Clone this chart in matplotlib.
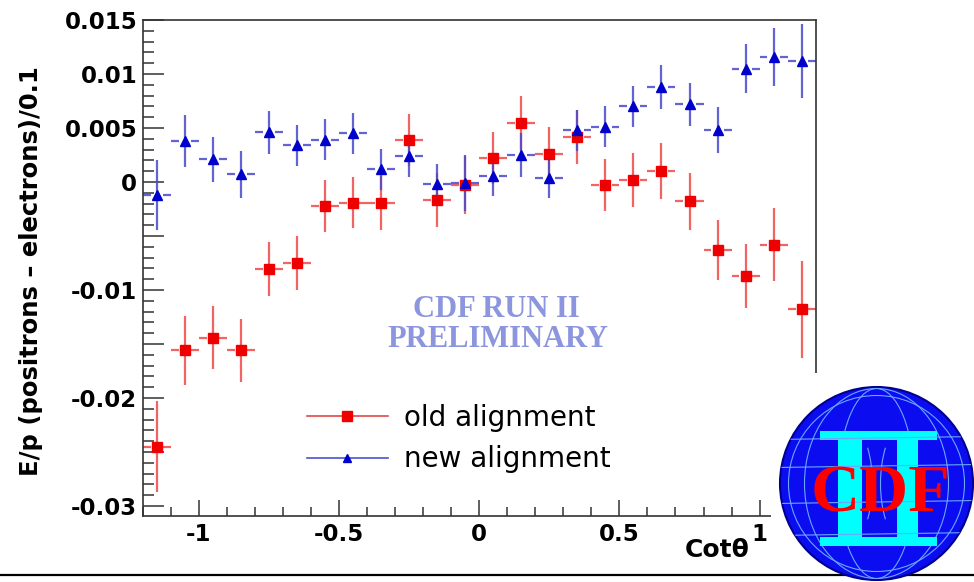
import matplotlib
matplotlib.use("Agg")
import matplotlib.pyplot as plt
import numpy as np
from matplotlib.lines import Line2D
from matplotlib.patches import Circle, Rectangle, Ellipse, Arc
from matplotlib.ticker import FixedLocator, MultipleLocator, FuncFormatter

# cot(theta) bin centres, bins are 0.1 wide
cot_theta = [-1.15, -1.05, -0.95, -0.85, -0.75, -0.65, -0.55, -0.45, -0.35, -0.25, -0.15, -0.05,
             0.05, 0.15, 0.25, 0.35, 0.45, 0.55, 0.65, 0.75, 0.85, 0.95, 1.05, 1.15]
bin_half_width = 0.05

# E/p (positrons - electrons) per bin
old_ep = [-0.0245, -0.0156, -0.0144, -0.0156, -0.0081, -0.0075, -0.0022, -0.0019, -0.0019, 0.0039,
          -0.0017, -0.0003, 0.0022, 0.0055, 0.0026, 0.0042, -0.0003, 0.0002, 0.0010, -0.0018,
          -0.0063, -0.0087, -0.0058, -0.0118]
old_err = [0.0042, 0.0032, 0.0029, 0.0029, 0.0025, 0.0025, 0.0024, 0.0024, 0.0025, 0.0024,
           0.0025, 0.0027, 0.0024, 0.0025, 0.0025, 0.0025, 0.0024, 0.0025, 0.0026, 0.0026,
           0.0028, 0.0030, 0.0034, 0.0045]
new_ep = [-0.0012, 0.0038, 0.0021, 0.0007, 0.0046, 0.0034, 0.0039, 0.0045, 0.0012, 0.0024,
          -0.0002, -0.0001, 0.0006, 0.0025, 0.0004, 0.0048, 0.0051, 0.0070, 0.0088, 0.0072,
          0.0048, 0.0105, 0.0116, 0.0112]
new_err = [0.0032, 0.0024, 0.0021, 0.0022, 0.0020, 0.0019, 0.0019, 0.0019, 0.0019, 0.0019,
           0.0019, 0.0026, 0.0019, 0.0020, 0.0019, 0.0019, 0.0019, 0.0019, 0.0020, 0.0020,
           0.0021, 0.0023, 0.0027, 0.0034]

x_tick_values = [-1, -0.5, 0, 0.5, 1]
x_tick_text = ["-1", "-0.5", "0", "0.5", "1"]
y_label_values = [0.015, 0.01, 0.005, 0.0, -0.01, -0.02, -0.03]
y_label_text = ["0.015", "0.01", "0.005", "0", "-0.01", "-0.02", "-0.03"]

W, H = 974, 582


def fx(p):
    return p / W


def fy(p):
    return 1 - p / H


fig = plt.figure(figsize=(W / 100, H / 100), dpi=100)
ax = fig.add_axes([fx(142.7), fy(515.7), (815.7 - 142.7) / W, (515.7 - 20) / H])

x = np.array(cot_theta)
gap = 0.022


def draw_series(y, err, marker, ms, mcol, lcol):
    y = np.array(y)
    err = np.array(err)
    ax.vlines(x, y - err, y + err, color=lcol, lw=1.6, alpha=0.85, zorder=2)
    ax.hlines(y, x - bin_half_width, x - gap, color=lcol, lw=1.6, alpha=0.85, zorder=2)
    ax.hlines(y, x + gap, x + bin_half_width, color=lcol, lw=1.6, alpha=0.85, zorder=2)
    ax.plot(x, y, linestyle="none", marker=marker, ms=ms, mfc=mcol, mec=mcol, zorder=3)


draw_series(old_ep, old_err, "s", 7, "#ee0000", "#f04848")
draw_series(new_ep, new_err, "^", 6.5, "#0000cc", "#4848cc")

ax.set_xlim(-1.2, 1.2)
ax.set_ylim(-0.0309, 0.015)

ax.xaxis.set_major_locator(FixedLocator(x_tick_values))
ax.set_xticklabels(x_tick_text)
ax.xaxis.set_minor_locator(MultipleLocator(0.1))

y_labels = {round(v, 4): t for v, t in zip(y_label_values, y_label_text)}
ax.yaxis.set_major_locator(MultipleLocator(0.005))
ax.yaxis.set_major_formatter(FuncFormatter(lambda v, pos: y_labels.get(round(v, 4), "")))
ax.yaxis.set_minor_locator(MultipleLocator(0.001))

ax.tick_params(axis="both", which="both", direction="in", color="#333333", width=1.1,
               labelsize=16.5)
ax.tick_params(axis="y", which="major", length=15, pad=4)
ax.tick_params(axis="y", which="minor", length=8)
ax.tick_params(axis="x", which="major", length=11.5, pad=5)
ax.tick_params(axis="x", which="minor", length=6.5)
for lab in ax.get_xticklabels() + ax.get_yticklabels():
    lab.set_fontweight("bold")
for sp in ax.spines.values():
    sp.set_color("#333333")
    sp.set_linewidth(1.2)

# axis titles
fig.text(fx(31), fy(271), "E/p (positrons \u2013 electrons)/0.1", rotation=90, ha="center",
         va="center", fontsize=17.5, fontweight="bold")
fig.text(fx(750), fy(557), "Cot\u03b8", ha="right", va="baseline", fontsize=18,
         fontweight="bold")

# preliminary stamp
fig.text(fx(496), fy(316.7), "CDF RUN II", ha="center", va="baseline", fontsize=22,
         family="Liberation Serif", fontweight="bold", color="#8c96de")
fig.text(fx(498), fy(347.3), "PRELIMINARY", ha="center", va="baseline", fontsize=22,
         family="Liberation Serif", fontweight="bold", color="#8c96de")

handles = [
    Line2D([], [], color="#e04848", lw=1.2, marker="s", ms=7, mfc="#ee0000", mec="#ee0000"),
    Line2D([], [], color="#5050d0", lw=1.2, marker="^", ms=6, mfc="#0000cc", mec="#0000cc"),
]
ax.legend(handles, ["old alignment", "new alignment"], loc="center left",
          bbox_to_anchor=(fx(307), fy(438.5)), bbox_transform=fig.transFigure,
          frameon=False, fontsize=20, handlelength=2.9, handletextpad=0.6,
          labelspacing=0.5, borderpad=0, borderaxespad=0)

# white corner under the logo, and the rule along the bottom
fig.add_artist(Rectangle((fx(771), 0), 1 - fx(771), fy(373), transform=fig.transFigure,
                         fc="white", ec="none", zorder=2))
fig.add_artist(Line2D([0, 1], [fy(575), fy(575)], transform=fig.transFigure,
                      color="black", lw=1.6, zorder=3))

# CDF II logo
lax = fig.add_axes([fx(776.5), fy(583.5), 200 / W, 200 / H], zorder=5)
lax.set_xlim(-100, 100)
lax.set_ylim(-100, 100)
lax.axis("off")
disc = Circle((0, 0), 96.5, fc="#0c0cf0", ec="#000090", lw=1.5)
lax.add_patch(disc)
grid_col = "#6aa8ff"
ring = Circle((0, 0), 88, fill=False, ec=grid_col, lw=0.8)
lax.add_patch(ring)
for a in (38, 72):
    e = Ellipse((0, 0), 2 * a, 190, fill=False, ec=grid_col, lw=0.8)
    lax.add_patch(e)
    e.set_clip_path(disc)
for yy in (-52, -20, 16, 44):
    ln, = lax.plot([-100, 100], [yy, yy + 3], color=grid_col, lw=0.8)
    ln.set_clip_path(disc)
for cx, t1, t2 in ((-34, -55, 55), (34, 125, 235)):
    arc = Arc((cx, 0), 60, 130, theta1=t1, theta2=t2, ec=grid_col, lw=0.8)
    lax.add_patch(arc)
    arc.set_clip_path(disc)

cyan = "#00ffff"
lax.add_patch(Rectangle((-56.5, 43.5), 116.7, 9, fc=cyan, ec="none"))
lax.add_patch(Rectangle((-56.5, -62.5), 116.7, 9.3, fc=cyan, ec="none"))
lax.add_patch(Rectangle((-38.5, -53.2), 23.7, 96.7, fc=cyan, ec="none"))
lax.add_patch(Rectangle((20.2, -53.2), 21.3, 96.7, fc=cyan, ec="none"))
lax.text(4.5, -28.2, "CDF", color="#ff0000", fontsize=49, family="Liberation Serif",
         fontweight="bold", ha="center", va="baseline")

fig.savefig("out.png", dpi=100)
